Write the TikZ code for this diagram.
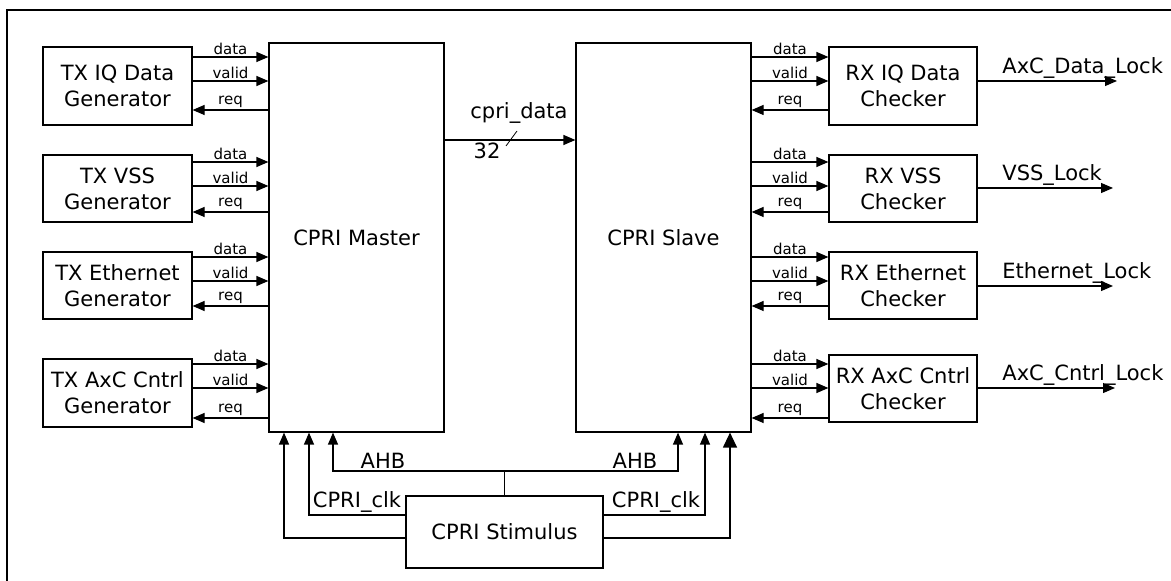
\documentclass[tikz,border=0pt]{standalone}
\usepackage{fontspec}
\setmainfont{DejaVu Sans}
\usetikzlibrary{arrows.meta,calc}
\newcommand{\blkfont}{\fontsize{10.5}{13}\selectfont}
\newcommand{\portfont}{\fontsize{7.5}{9}\selectfont}
\tikzset{
  blk/.style={draw,line width=0.6pt,align=center,inner sep=0pt,font=\blkfont},
  sig/.style={line width=0.6pt,-{Triangle[length=6pt,width=5pt]}},
  bigsig/.style={line width=0.6pt,-{Triangle[length=7.5pt,width=7pt]}},
  port/.style={font=\portfont,above,inner sep=1pt},
  lbl/.style={font=\blkfont,inner sep=1pt},
}

\begin{document}
\begin{tikzpicture}[x=0.5pt,y=-0.5pt]
  \useasboundingbox (0,0) rectangle (1171,581);
  \draw[line width=1pt] (7,581) -- (7,10) -- (1171,10);

  \node[blk,minimum width=74.5pt,minimum height=39pt] (txiq) at (117.5,86) {TX IQ Data\\Generator};
  \node[blk,minimum width=74.5pt,minimum height=33.5pt] (txvss) at (117.5,188.5) {TX VSS\\Generator};
  \node[blk,minimum width=74.5pt,minimum height=33.5pt] (txeth) at (117.5,285.5) {TX Ethernet\\Generator};
  \node[blk,minimum width=74.5pt,minimum height=34pt] (txaxc) at (117.5,393) {TX AxC Cntrl\\Generator};

  \node[blk,minimum width=87.5pt,minimum height=194.5pt] (master) at (356.5,237.5) {CPRI Master};
  \node[blk,minimum width=87.5pt,minimum height=194.5pt] (slave) at (663.5,237.5) {CPRI Slave};

  \node[blk,minimum width=74pt,minimum height=39pt] (rxiq) at (903,86) {RX IQ Data\\Checker};
  \node[blk,minimum width=74pt,minimum height=33.5pt] (rxvss) at (903,188.5) {RX VSS\\Checker};
  \node[blk,minimum width=74pt,minimum height=33.5pt] (rxeth) at (903,285.5) {RX Ethernet\\Checker};
  \node[blk,minimum width=74pt,minimum height=33.5pt] (rxaxc) at (903,388.5) {RX AxC Cntrl\\Checker};

  \node[blk,minimum width=98.5pt,minimum height=36pt] (stim) at (504.5,532) {CPRI Stimulus};

  \foreach \blk/\yd/\yv/\yr in {txiq/57/81/110,txvss/162/186/212,txeth/257/281/306,txaxc/364/388/418}{
    \draw[sig] (\blk.east |- 0,\yd) -- (master.west |- 0,\yd) node[port,midway] {data};
    \draw[sig] (\blk.east |- 0,\yv) -- (master.west |- 0,\yv) node[port,midway] {valid};
    \draw[sig] (master.west |- 0,\yr) -- (\blk.east |- 0,\yr) node[port,midway] {req};
  }
  \foreach \blk/\yd/\yv/\yr in {rxiq/57/81/110,rxvss/162/186/212,rxeth/257/281/306,rxaxc/364/388/418}{
    \draw[sig] (slave.east |- 0,\yd) -- (\blk.west |- 0,\yd) node[port,midway] {data};
    \draw[sig] (slave.east |- 0,\yv) -- (\blk.west |- 0,\yv) node[port,midway] {valid};
    \draw[sig] (\blk.west |- 0,\yr) -- (slave.east |- 0,\yr) node[port,midway] {req};
  }

  \draw[sig] (master.east |- 0,140) -- (slave.west |- 0,140);
  \node[lbl] (cprilbl) at (519,113) {cpri\_data};
  \draw[line width=0.4pt] (506,146) -- (517,131);
  \node[lbl] (buswidth) at (487,151) {32};

  \coordinate (iqend) at (1117,81);
  \coordinate (vssend) at (1113,188);
  \coordinate (ethend) at (1113,286);
  \coordinate (axcend) at (1115,388);
  \draw[sig] (rxiq.east |- iqend) -- (iqend);
  \draw[sig] (rxvss.east |- vssend) -- (vssend);
  \draw[sig] (rxeth.east |- ethend) -- (ethend);
  \draw[sig] (rxaxc.east |- axcend) -- (axcend);
  \node[lbl,anchor=base west] (iqlock) at (1000,74) {AxC\_Data\_Lock};
  \node[lbl,anchor=base west] (vsslock) at (1000,181) {VSS\_Lock};
  \node[lbl,anchor=base west] (ethlock) at (1000,279) {Ethernet\_Lock};
  \node[lbl,anchor=base west] (axclock) at (1000,381) {AxC\_Cntrl\_Lock};

  \coordinate (ahb) at (stim.north |- 0,471);
  \draw[line width=0.6pt] (stim.north) -- (ahb);
  \draw[sig] (ahb) -| (333,0 |- master.south);
  \draw[sig] (ahb) -| (678,0 |- slave.south);
  \draw[sig] (stim.west |- 0,515) -| (309,0 |- master.south);
  \draw[sig] (stim.east |- 0,515) -| (705,0 |- slave.south);
  \draw[sig] (stim.west |- 0,538) -| (284,0 |- master.south);
  \draw[bigsig] (stim.east |- 0,538) -| (730,0 |- slave.south);
  \node[lbl,above] (ahbl) at (383,471) {AHB};
  \node[lbl,above] (ahbr) at (635,471) {AHB};
  \node[lbl,above] (clkl) at (357,515) {CPRI\_clk};
  \node[lbl,above] (clkr) at (656,515) {CPRI\_clk};
\end{tikzpicture}
\end{document}
